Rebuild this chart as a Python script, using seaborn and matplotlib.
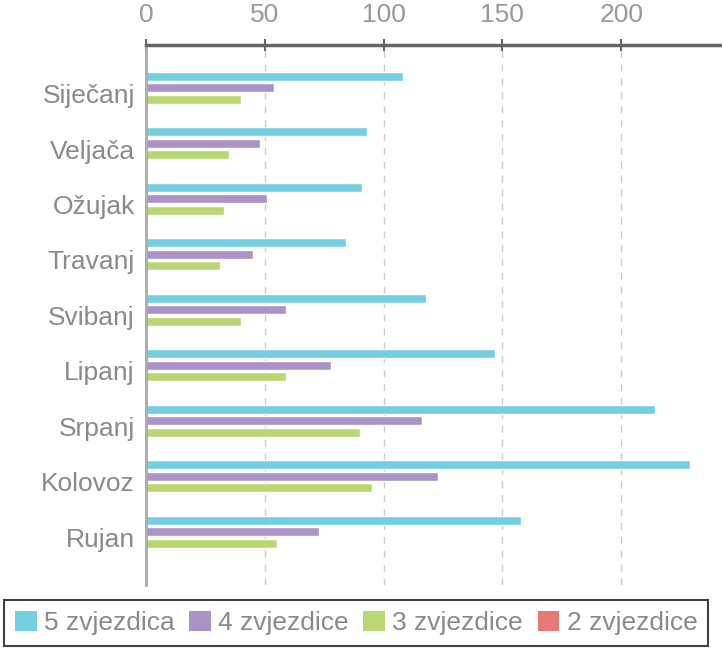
import pandas as pd
import numpy as np
import matplotlib
matplotlib.use("Agg")
import matplotlib.pyplot as plt
import seaborn as sns
from matplotlib.patches import Patch

# -----------------------------
# Data
# -----------------------------
months = ['Siječanj', 'Veljača', 'Ožujak', 'Travanj', 'Svibanj',
          'Lipanj', 'Srpanj', 'Kolovoz', 'Rujan']
series_names = ['5 zvjezdica', '4 zvjezdice', '3 zvjezdice', '2 zvjezdice']
five_stars = [108, 93, 91, 84, 118, 147, 214, 229, 158]
four_stars = [54, 48, 51, 45, 59, 78, 116, 123, 73]
three_stars = [40, 35, 33, 31, 40, 59, 90, 95, 55]
two_stars = [0, 0, 0, 0, 0, 0, 0, 0, 0]
colors = ['#74CFE0', '#AB93C9', '#B9D874', '#E57A77']
x_ticks = [0, 50, 100, 150, 200]

df = pd.DataFrame({
    'month': months * 4,
    'series': sum([[s] * len(months) for s in series_names], []),
    'value': five_stars + four_stars + three_stars + two_stars,
})

# -----------------------------
# Plot
# -----------------------------
sns.set_style('white')
plt.rcParams['font.family'] = ['Liberation Sans', 'DejaVu Sans']

fig = plt.figure(figsize=(7.22, 6.48), dpi=100)
ax = fig.add_axes([0.202, 0.097, 0.80, 0.834])

sns.barplot(data=df, y='month', x='value', hue='series', orient='h',
            palette=colors, hue_order=series_names, order=months,
            width=0.83, gap=0.22, saturation=1, errorbar=None,
            legend=False, ax=ax)

ax.set_xlim(0, 243)
ax.set_ylim(8.86, -0.88)
ax.set_xticks(x_ticks)
ax.xaxis.tick_top()
ax.tick_params(axis='x', colors='#666666', labelcolor='#999999', labelsize=19,
               length=9, width=1.5, direction='inout', pad=8)
ax.tick_params(axis='y', length=0, labelcolor='#8a8a8a', labelsize=19, pad=8)
ax.set_xlabel('')
ax.set_ylabel('')
ax.grid(axis='x', color='#cccccc', linestyle=(0, (5, 5)), linewidth=1)
ax.set_axisbelow(True)

for side in ['right', 'bottom']:
    ax.spines[side].set_visible(False)
ax.spines['top'].set_color('#666666')
ax.spines['top'].set_linewidth(2.5)
ax.spines['left'].set_color('#aaaaaa')
ax.spines['left'].set_linewidth(2)

handles = [Patch(facecolor=c, edgecolor='none') for c in colors]
leg = fig.legend(handles, series_names, loc='upper left', ncol=4,
                 bbox_to_anchor=(0.006, 1 - 600 / 648),
                 fontsize=19, frameon=True, fancybox=False,
                 handlelength=0.83, handleheight=0.83, handletextpad=0.27,
                 borderaxespad=0, columnspacing=0.55, borderpad=0.4)
leg.get_frame().set_edgecolor('#111111')
leg.get_frame().set_linewidth(1.5)
for t in leg.get_texts():
    t.set_color('#8a8a8a')

fig.savefig('out.png', dpi=100)
